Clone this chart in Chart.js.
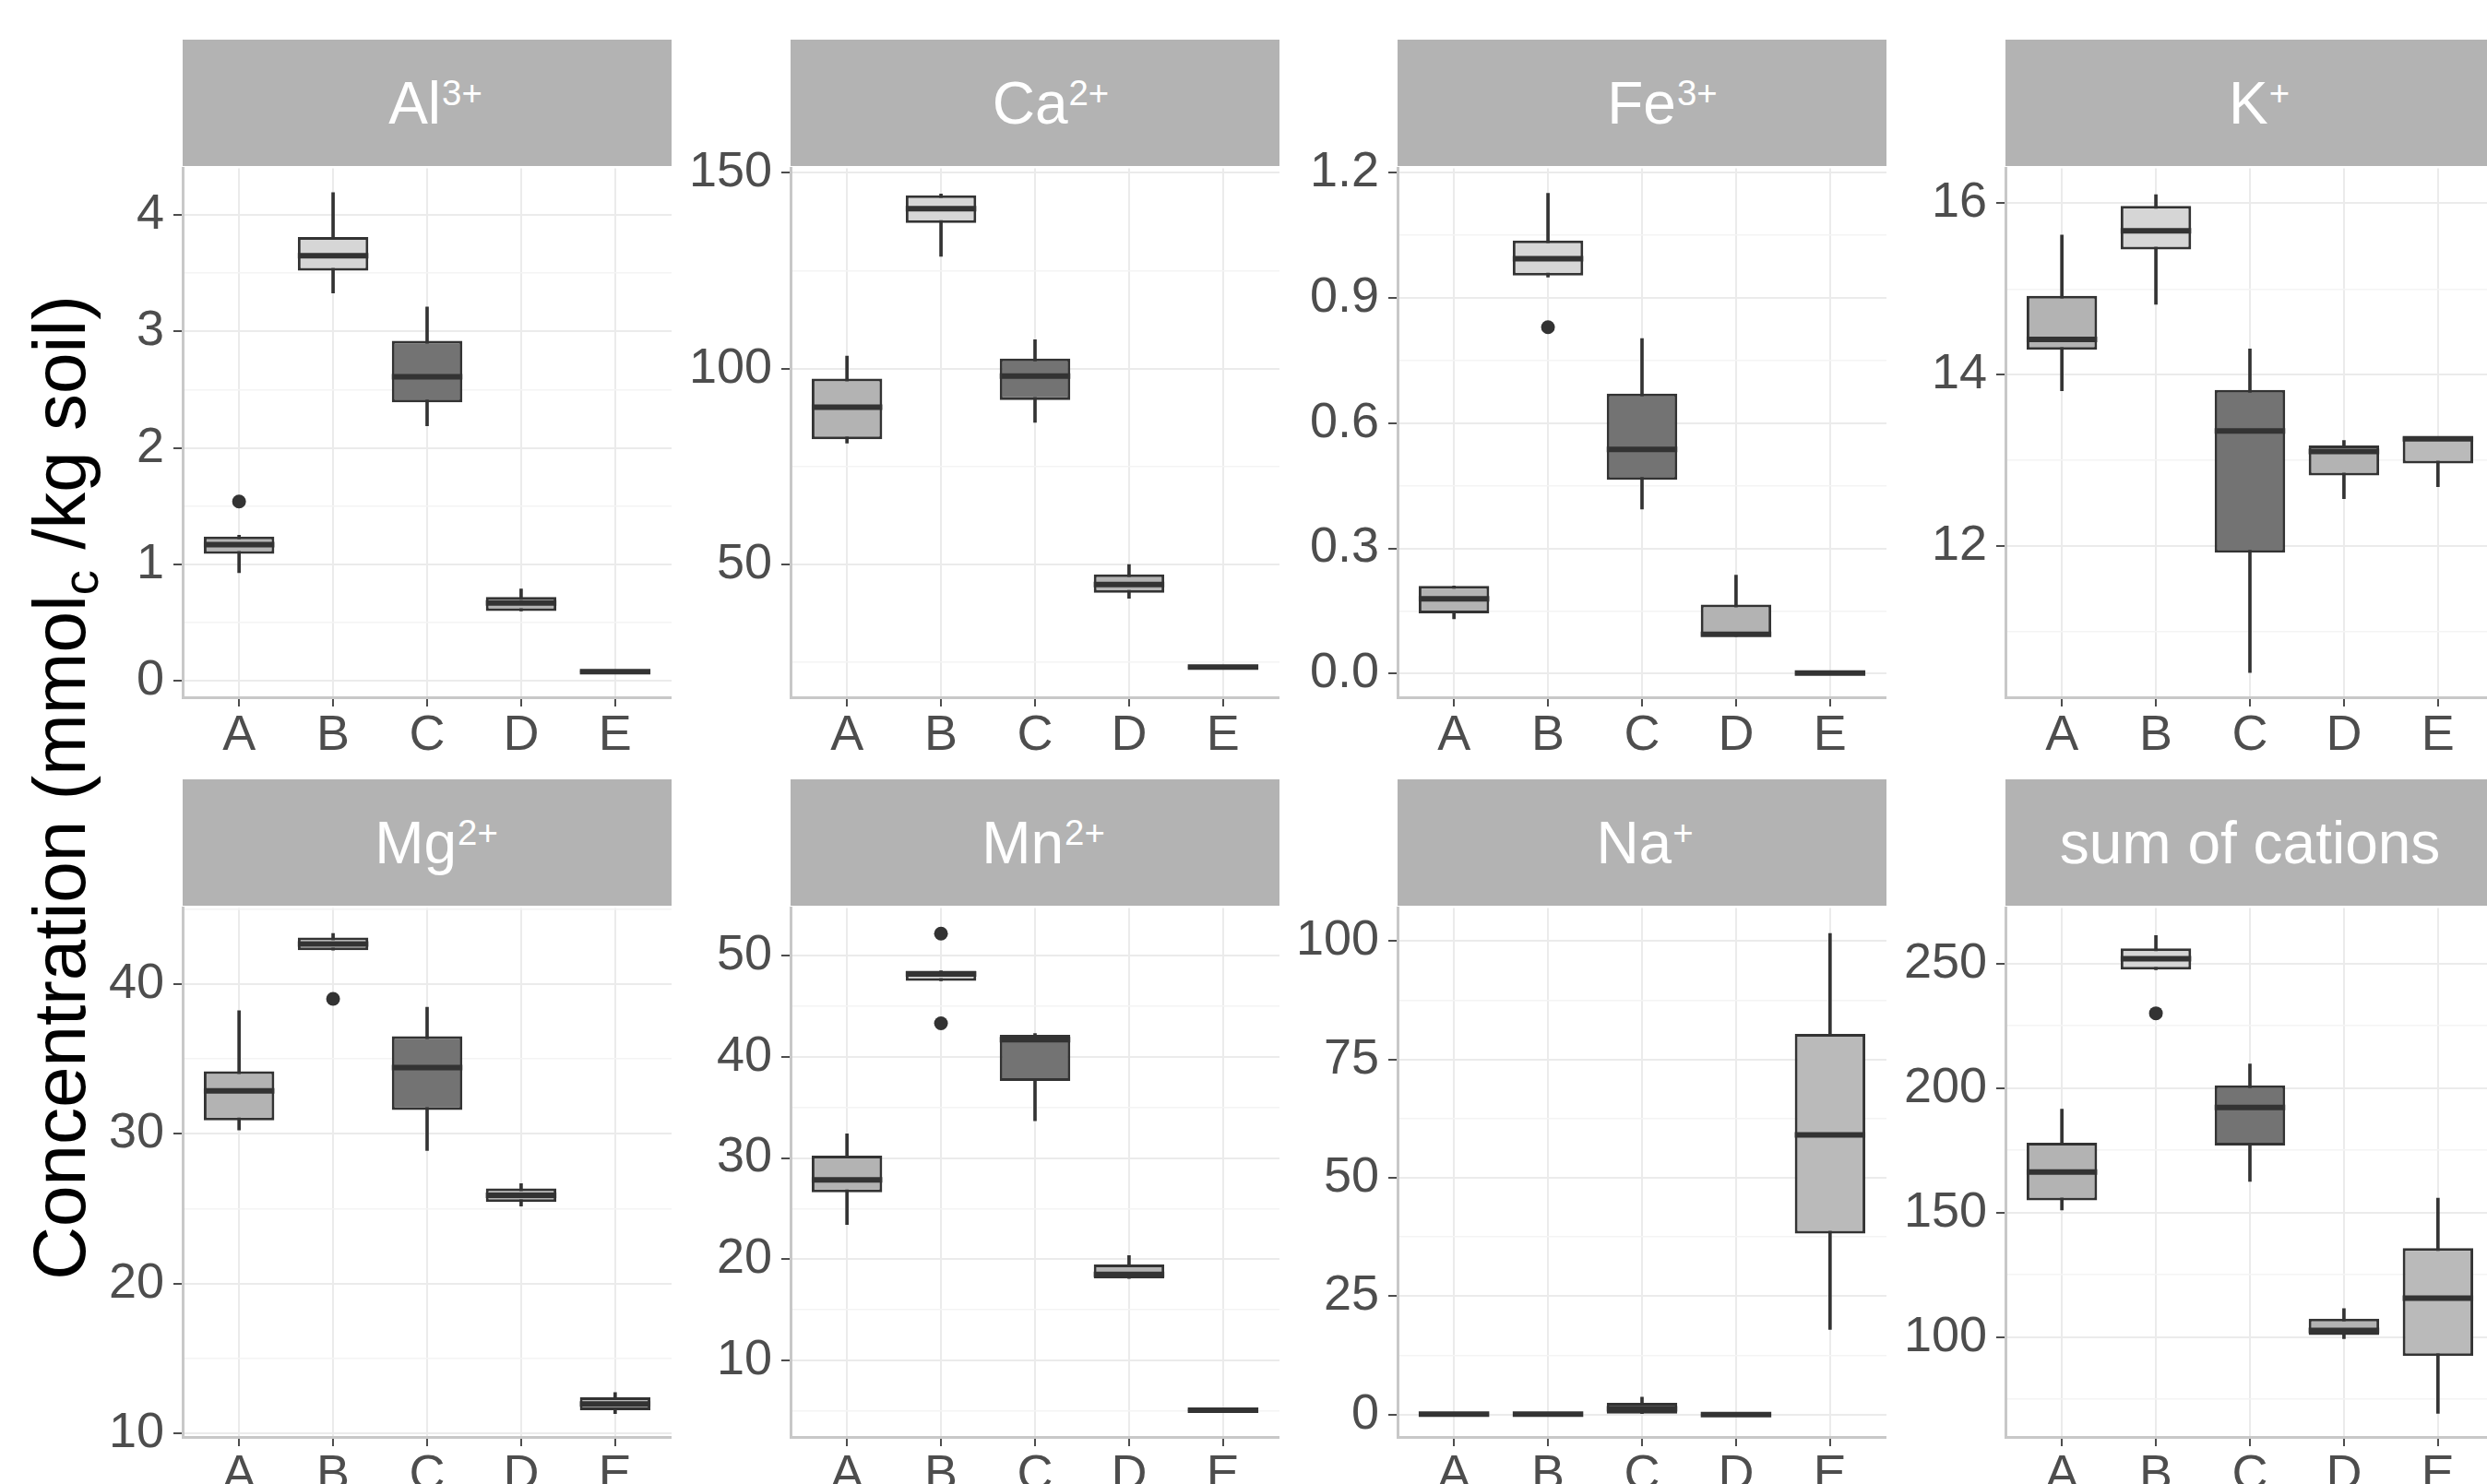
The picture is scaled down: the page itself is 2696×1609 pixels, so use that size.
<!DOCTYPE html>
<html>
<head>
<meta charset="utf-8">
<script src="https://cdn.jsdelivr.net/npm/chart.js@4.4.1/dist/chart.umd.min.js"></script>
<style>
  body { margin: 0; width: 2696px; height: 1609px; overflow: hidden; background: #fff; font-family: "Liberation Sans", Arial, sans-serif; }
  .strip { position: absolute; background: #b3b3b3; color: #fff; font-size: 64px; display: flex; align-items: center; justify-content: center; white-space: nowrap; }
  .strip .txt { position: relative; }
  .strip .sup { font-size: 0.6em; position: relative; top: -0.5em; margin-left: 1px; }
  .panel { position: absolute; }
  #ytitle { position: absolute; left: 69px; top: 854px; transform: translate(-50%, -50%) rotate(-90deg); font-size: 80px; color: #000; white-space: nowrap; }
  #ytitle sub { font-size: 0.68em; vertical-align: -0.25em; }
</style>
</head>
<body>
<div id="ytitle">Concentration (mmol<sub>c</sub> /kg soil)</div>
<script>
const groups = ['A', 'B', 'C', 'D', 'E']
const fills = ['#b3b3b3', '#d6d6d6', '#737373', '#b3b3b3', '#bababa']

// one row per group: [lower whisker, q1, median, q3, upper whisker]
const al = [[0.93, 1.09, 1.17, 1.24, 1.25], [3.33, 3.52, 3.65, 3.81, 4.19], [2.19, 2.39, 2.61, 2.92, 3.21], [0.60, 0.60, 0.67, 0.72, 0.79], [0.07, 0.07, 0.08, 0.09, 0.09]]
const alOut = [[1.54], [], [], [], []]
const alTicks = ['0', '1', '2', '3', '4']
const alRange = [-0.14, 4.40]

const ca = [[81.0, 82.0, 90.2, 97.5, 103.2], [128.7, 137.2, 140.9, 144.3, 144.6], [86.3, 92.0, 98.1, 102.6, 107.4], [41.4, 42.8, 44.9, 47.5, 50.0], [23.5, 23.5, 23.8, 24.0, 24.0]]
const caOut = [[], [], [], [], []]
const caTicks = ['50', '100', '150']
const caRange = [16.1, 151.2]

const fe = [[0.131, 0.144, 0.179, 0.21, 0.21], [0.95, 0.954, 0.994, 1.038, 1.151], [0.394, 0.464, 0.537, 0.671, 0.803], [0.089, 0.089, 0.094, 0.165, 0.236], [0, 0, 0.001, 0.002, 0.002]]
const feOut = [[], [0.83], [], [], []]
const feTicks = ['0.0', '0.3', '0.6', '0.9', '1.2']
const feRange = [-0.057, 1.211]

const k = [[13.81, 14.29, 14.41, 14.92, 15.63], [14.82, 15.46, 15.68, 15.97, 16.10], [10.52, 11.92, 13.34, 13.82, 14.30], [12.55, 12.82, 13.10, 13.17, 13.23], [12.69, 12.96, 13.25, 13.27, 13.27]]
const kOut = [[], [], [], [], []]
const kTicks = ['12', '14', '16']
const kRange = [10.23, 16.41]

const mg = [[30.25, 30.89, 32.87, 34.17, 38.22], [42.25, 42.25, 42.66, 43.10, 43.36], [28.89, 31.59, 34.42, 36.51, 38.45], [25.18, 25.44, 25.90, 26.36, 26.67], [11.33, 11.55, 11.97, 12.41, 12.73]]
const mgOut = [[], [39.0], [], [], []]
const mgTicks = ['10', '20', '30', '40']
const mgRange = [9.77, 45.07]

const mn = [[23.44, 26.62, 27.84, 30.23, 32.39], [47.5, 47.5, 48.17, 48.5, 48.5], [33.67, 37.6, 41.69, 42.16, 42.3], [18.1, 18.12, 18.5, 19.48, 20.37], [5.0, 5.0, 5.1, 5.2, 5.2]]
const mnOut = [[], [52.16, 43.3], [], [], []]
const mnTicks = ['10', '20', '30', '40', '50']
const mnRange = [2.45, 54.7]

const na = [[0, 0, 0.1, 0.3, 0.3], [0, 0, 0.1, 0.3, 0.3], [0.2, 0.2, 1.2, 2.5, 3.7], [-0.2, -0.2, 0, 0.1, 0.1], [18.0, 38.2, 59.05, 80.4, 101.6]]
const naOut = [[], [], [], [], []]
const naTicks = ['0', '25', '50', '75', '100']
const naRange = [-4.73, 107.0]

const sum = [[151, 154.9, 166.3, 178.0, 191.5], [247.5, 247.5, 251.9, 256.1, 261.2], [162.5, 176.9, 192.2, 201.1, 209.7], [99.4, 100.8, 102.7, 107.4, 111.4], [69.4, 92.4, 115.6, 135.7, 155.8]]
const sumOut = [[], [230], [], [], []]
const sumTicks = ['100', '150', '200', '250']
const sumRange = [59.9, 272.3]

const ionNames = ['Al', 'Ca', 'Fe', 'K', 'Mg', 'Mn', 'Na', 'sum of cations']
const charges = ['3+', '2+', '3+', '+', '2+', '2+', '+', '']

const panels = [
  [al, alOut, alTicks, alRange], [ca, caOut, caTicks, caRange],
  [fe, feOut, feTicks, feRange], [k, kOut, kTicks, kRange],
  [mg, mgOut, mgTicks, mgRange], [mn, mnOut, mnTicks, mnRange],
  [na, naOut, naTicks, naRange], [sum, sumOut, sumTicks, sumRange]
]

// strip labels sit a little right of centre in the original
const stripShift = [9, 17, 22, 10, 10, 9, 3, 0]

const tickFont = { family: '"Liberation Sans", Arial, sans-serif', size: 54 }
const tickColor = '#4d4d4d'
const yAxisW = 140, xAxisH = 70, padTop = 40
const plotW = 530, plotH = 576

// median lines on top of the boxes
const medianPlugin = {
  id: 'median',
  afterDatasetsDraw(chart) {
    const stats = chart.config.options.plugins.median.stats
    const meta = chart.getDatasetMeta(1)
    const y = chart.scales.y
    const ctx = chart.ctx
    ctx.save()
    ctx.strokeStyle = '#333333'
    ctx.lineWidth = 6
    meta.data.forEach((el, i) => {
      const { x, width } = el.getProps(['x', 'width'], true)
      const py = y.getPixelForValue(stats[i][2])
      ctx.beginPath()
      ctx.moveTo(x - width / 2, py)
      ctx.lineTo(x + width / 2, py)
      ctx.stroke()
    })
    ctx.restore()
  }
}

function gridValues(ticks, range) {
  const major = ticks.map(parseFloat)
  const h = (major[1] - major[0]) / 2
  let v = major[0]
  while (v - h >= range[0]) v -= h
  const out = []
  for (; v <= range[1] + 1e-9; v += h) out.push(Math.round(v * 1e6) / 1e6)
  return out
}

function labelFor(v, ticks) {
  const major = ticks.map(parseFloat)
  const h = (major[1] - major[0]) / 2
  const i = major.findIndex(m => Math.abs(m - v) < h / 10)
  return i < 0 ? '' : ticks[i]
}

panels.forEach((p, n) => {
  const [stats, outs, ticks, range] = p
  const col = n % 4, row = Math.floor(n / 4)
  const left = Math.round(198 + col * 658.5)
  const stripTop = 43 + row * 802
  const plotTop = stripTop + 137

  const strip = document.createElement('div')
  strip.className = 'strip'
  strip.style.left = left + 'px'
  strip.style.top = stripTop + 'px'
  strip.style.width = plotW + 'px'
  strip.style.height = '137px'
  strip.innerHTML = '<span class="txt" style="left:' + stripShift[n] + 'px">' + ionNames[n] +
    (charges[n] ? '<span class="sup">' + charges[n] + '</span>' : '') + '</span>'
  document.body.appendChild(strip)

  const wrap = document.createElement('div')
  wrap.className = 'panel'
  wrap.style.left = (left - yAxisW) + 'px'
  wrap.style.top = (plotTop - padTop) + 'px'
  const canvas = document.createElement('canvas')
  canvas.width = yAxisW + plotW
  canvas.height = padTop + plotH + xAxisH
  wrap.appendChild(canvas)
  document.body.appendChild(wrap)

  const gv = gridValues(ticks, range)
  const isMajor = v => labelFor(v, ticks) !== ''
  const outPts = []
  outs.forEach((list, i) => list.forEach(v => outPts.push({ x: i + 1, y: v })))

  new Chart(canvas, {
    type: 'bar',
    data: {
      datasets: [
        {
          // whiskers
          data: stats.map((s, i) => ({ x: i + 1, y: [s[0], s[4]] })),
          backgroundColor: '#333333',
          borderWidth: 0,
          barThickness: 3,
          grouped: false,
          order: 3
        },
        {
          // boxes q1..q3
          data: stats.map((s, i) => ({ x: i + 1, y: [s[1], s[3]] })),
          backgroundColor: fills,
          borderColor: '#333333',
          borderWidth: 3,
          borderSkipped: false,
          categoryPercentage: 1,
          barPercentage: 0.75,
          grouped: false,
          order: 2
        },
        {
          type: 'scatter',
          data: outPts,
          backgroundColor: '#333333',
          borderWidth: 0,
          pointRadius: 7.5,
          order: 1
        }
      ]
    },
    plugins: [medianPlugin],
    options: {
      responsive: false,
      animation: false,
      layout: { autoPadding: false, padding: { top: padTop, left: 0, right: 0, bottom: 0 } },
      plugins: {
        legend: { display: false },
        tooltip: { enabled: false },
        median: { stats: stats }
      },
      scales: {
        x: {
          type: 'linear',
          min: 0.4,
          max: 5.6,
          offset: false,
          afterBuildTicks: s => { s.ticks = groups.map((g, i) => ({ value: i + 1 })) },
          afterFit: s => { s.height = xAxisH },
          ticks: { callback: v => groups[Math.round(v) - 1], font: tickFont, color: tickColor, padding: 0, autoSkip: false, maxRotation: 0 },
          grid: { offset: false, color: '#ebebeb', lineWidth: 2, tickLength: 10, tickColor: '#4d4d4d', tickWidth: 2 },
          border: { color: '#c8c8c8', width: 3 }
        },
        y: {
          min: range[0],
          max: range[1],
          afterBuildTicks: s => { s.ticks = gv.map(v => ({ value: v })) },
          afterFit: s => { s.width = yAxisW },
          ticks: { callback: v => labelFor(v, ticks), font: tickFont, color: tickColor, padding: 10, autoSkip: false },
          grid: {
            color: c => isMajor(c.tick.value) ? '#ebebeb' : '#f4f4f4',
            lineWidth: c => isMajor(c.tick.value) ? 2 : 1.5,
            tickLength: 10,
            tickColor: c => isMajor(c.tick.value) ? '#4d4d4d' : 'rgba(0,0,0,0)',
            tickWidth: 2
          },
          border: { color: '#c8c8c8', width: 3 }
        }
      }
    }
  })
})
</script>
</body>
</html>
